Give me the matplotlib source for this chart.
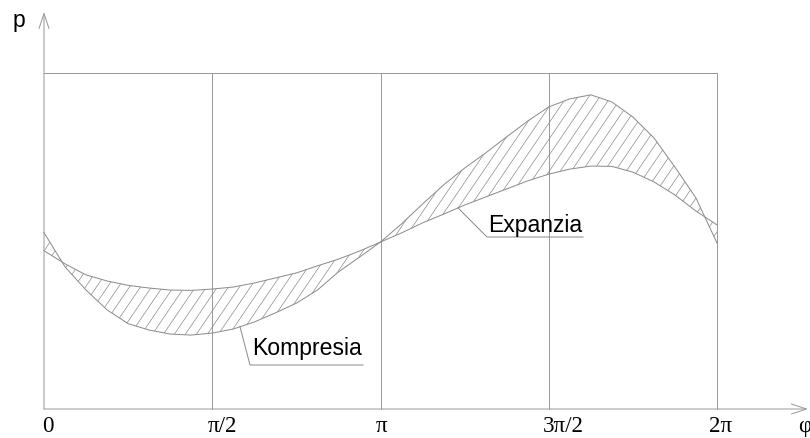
import numpy as np
import matplotlib
matplotlib.use("Agg")
import matplotlib.pyplot as plt
from matplotlib.patches import Polygon

# ---- data (phi in radians, p in arbitrary units; frame top = 10) ----
phi = np.arange(33) * np.pi / 16
kompresia = [5.25, 4.23, 3.54, 2.95, 2.54, 2.35, 2.23, 2.20, 2.26, 2.38, 2.59,
             2.86, 3.15, 3.54, 4.08, 4.52, 4.97, 5.51, 6.10, 6.67, 7.17, 7.62,
             8.10, 8.57, 8.99, 9.23, 9.35, 9.14, 8.69, 8.07, 7.20, 6.28, 4.94]
expanzia = [4.71, 4.32, 3.99, 3.81, 3.68, 3.60, 3.54, 3.53, 3.57, 3.63, 3.75,
            3.90, 4.05, 4.26, 4.46, 4.70, 4.97, 5.24, 5.54, 5.80, 6.07, 6.31,
            6.55, 6.79, 6.99, 7.14, 7.23, 7.22, 7.05, 6.76, 6.37, 5.89, 5.48]
p_top = 10.0
grid_phi = [np.pi / 2, np.pi, 3 * np.pi / 2, 2 * np.pi]
tick_pos = [0, np.pi / 2, np.pi, 3 * np.pi / 2, 2 * np.pi]
tick_labels = ["0", "π/2", "π", "3π/2", "2π"]

# ---- layout ----
W, H, DPI = 810, 438, 72
X0, X2PI, Y0, YTOP = 44, 717, 409, 73
sx = 2 * np.pi / (X2PI - X0)
sy = p_top / (Y0 - YTOP)

def px(xp, yp):
    return (xp - X0) * sx, (Y0 - yp) * sy

LINE = "#8c8c8c"
FRAME = "#9a9a9a"

fig = plt.figure(figsize=(W / DPI, H / DPI), dpi=DPI)
ax = fig.add_axes([0, 0, 1, 1])
ax.axis("off")
ax.set_xlim((0 - X0) * sx, (W - X0) * sx)
ax.set_ylim((Y0 - H) * sy, Y0 * sy)

# frame
ax.plot([0, 2 * np.pi], [p_top, p_top], color=FRAME, lw=1)
for g in grid_phi:
    ax.plot([g, g], [0, p_top], color=FRAME, lw=1)

# axes arrows
tip_x = px(808, Y0)[0]
tip_y = px(X0, 12)[1]
arrow = dict(arrowstyle="->,head_length=1.5,head_width=0.5", color=FRAME, lw=1,
             shrinkA=0, shrinkB=0)
ax.annotate("", xy=(tip_x, 0), xytext=(0, 0), arrowprops=arrow)
ax.annotate("", xy=(0, tip_y), xytext=(0, 0), arrowprops=arrow)

# hatched area between the curves (custom steep hatch, clipped to the area)
verts = np.concatenate([np.column_stack([phi, kompresia]),
                        np.column_stack([phi[::-1], expanzia[::-1]])])
area = Polygon(verts, closed=True, facecolor="none", edgecolor="none")
ax.add_patch(area)
cot = 0.68      # hatch slope (cot of angle)
step = 11       # hatch spacing in pixels
for c in np.arange(X0 - cot * (Y0 - YTOP) - step, X2PI + step, step):
    xa, ya = px(c, Y0)
    xb, yb = px(c + cot * (Y0 - YTOP), YTOP)
    ln, = ax.plot([xa, xb], [ya, yb], color=LINE, lw=0.7)
    ln.set_clip_path(area)

ax.plot(phi, kompresia, color=LINE, lw=1)
ax.plot(phi, expanzia, color=LINE, lw=1)

# leader labels
def leader(series, phi_at, elbow_px, end_px, text, text_px):
    y_at = np.interp(phi_at, phi, series)
    ex, ey = px(*elbow_px)
    fx, fy = px(*end_px)
    ax.plot([phi_at, ex, fx], [y_at, ey, fy], color=LINE, lw=1)
    tx, ty = px(*text_px)
    ax.text(tx, ty, text, fontsize=23, family="Liberation Sans",
            ha="left", va="baseline", color="black")

leader(kompresia, px(240, 0)[0], (250, 365), (363, 365), "Kompresia", (252, 355))
leader(expanzia, px(458, 0)[0], (487, 237), (583, 237), "Expanzia", (488, 232))

# tick labels
centers = [47.5, 222, 382, 563, 721]
for c, lab in zip(centers, tick_labels):
    x, y = px(c, 432)
    ax.text(x, y, lab, fontsize=23, family="Liberation Serif",
            ha="center", va="baseline", color="black")

x, y = px(798, 432)
ax.text(x, y, "φ", fontsize=23, family="Liberation Serif",
        ha="left", va="baseline", color="black")
x, y = px(19, 27)
ax.text(x, y, "p", fontsize=23, family="Liberation Sans",
        ha="center", va="baseline", color="black")

fig.savefig("out.png", dpi=DPI)
